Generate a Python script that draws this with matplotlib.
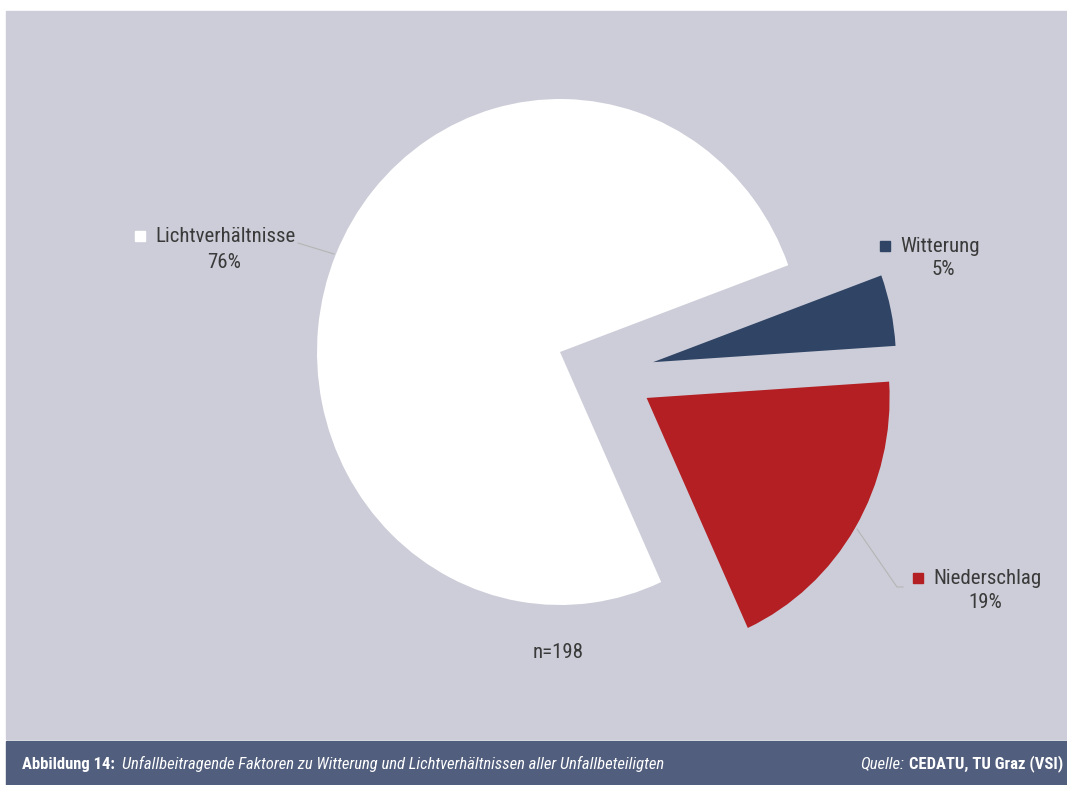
import matplotlib
matplotlib.use("Agg")
import matplotlib.pyplot as plt
from matplotlib.patches import Rectangle
import numpy as np

# Unfallbeteiligte mit Faktoren Witterung / Lichtverhältnisse (n=198)
categories = ["Witterung", "Lichtverhältnisse", "Niederschlag"]
counts = [9, 151, 38]
colors = ["#304566", "#ffffff", "#b31f22"]
explode = [0.385, 0.0, 0.40]
# direction (deg) in which the pulled-out slices are shifted
explode_dir = [-6, 0, -27]

W, H = 1067, 785
PANEL = "#cccdd8"
FOOTER = "#525e7d"
TEXT = "#3a3a3a"
FONT = ["Liberation Sans Narrow", "DejaVu Sans Condensed", "Roboto Condensed",
        "Roboto", "DejaVu Sans"]

plt.rcParams["font.family"] = FONT

fig = plt.figure(figsize=(W / 100, H / 100), dpi=100)
fig.patch.set_facecolor("white")


def fx(px):
    return px / W


def fy(py):
    return 1 - py / H


# background panel and caption bar
fig.patches.append(Rectangle((fx(6), fy(739)), 1 - fx(6), fy(11) - fy(739),
                             transform=fig.transFigure, color=PANEL, zorder=-2))
fig.patches.append(Rectangle((fx(6), 0), 1 - fx(6), fy(741),
                             transform=fig.transFigure, color=FOOTER, zorder=-2))

ax = fig.add_axes([0, 0, 1, 1])
ax.set_facecolor("none")
wedges, _ = ax.pie(counts, colors=colors, explode=explode, startangle=3.7,
                   counterclock=True, radius=1.0,
                   wedgeprops=dict(linewidth=0))

for w, e, d in zip(wedges, explode, explode_dir):
    a = np.deg2rad(d)
    w.set_center((e * np.cos(a), e * np.sin(a)))

# pie is a little taller than wide: 243 px horizontal, 253 px vertical radius
cx, cy, rx, ry = 560, 352, 243, 253
ax.set_aspect("auto")
ax.set_xlim(-cx / rx, (W - cx) / rx)
ax.set_ylim((cy - H) / ry, cy / ry)
ax.axis("off")

n = sum(counts)
pct = [f"{round(100 * c / n)}%" for c in counts]

# labels: (square x, name x-left, name y, pct centre x, pct y)
label_pos = {
    "Lichtverhältnisse": (140, 155, 236, 224, 263),
    "Witterung": (885, 900, 246, 943, 270),
    "Niederschlag": (918, 933, 578, 985, 603),
}
LS = 15
for i, name in enumerate(categories):
    sx, tx, ty, px_, py_ = label_pos[name]
    fig.patches.append(Rectangle((fx(sx - 5), fy(ty + 5)), 10 / W, 10 / H,
                                 transform=fig.transFigure, color=colors[i],
                                 zorder=3))
    fig.text(fx(tx), fy(ty), name, ha="left", va="center", fontsize=LS,
             color=TEXT)
    fig.text(fx(px_), fy(py_), pct[i], ha="center", va="center", fontsize=LS,
             color=TEXT)

# leader lines
lead = "#b5b5b5"
fig.add_artist(plt.Line2D([fx(298), fx(334)], [fy(243), fy(254)],
                          transform=fig.transFigure, color=lead, lw=0.8))
fig.add_artist(plt.Line2D([fx(857), fx(897), fx(903)],
                          [fy(529), fy(587), fy(587)],
                          transform=fig.transFigure, color=lead, lw=0.8))

fig.text(fx(558), fy(653), f"n={n}", ha="center", va="center", fontsize=LS,
         color=TEXT)

# caption
CS = 12
fig.text(fx(22), fy(764), "Abbildung 14:", ha="left", va="center",
         fontsize=CS, fontweight="bold", color="white")
fig.text(fx(122), fy(764),
         "Unfallbeitragende Faktoren zu Witterung und Lichtverhältnissen aller Unfallbeteiligten",
         ha="left", va="center", fontsize=CS, style="italic", color="white")
fig.text(fx(904), fy(764), "Quelle:", ha="right", va="center", fontsize=CS,
         style="italic", color="white")
fig.text(fx(1063), fy(764), "CEDATU, TU Graz (VSI)", ha="right", va="center",
         fontsize=CS, fontweight="bold", color="white")

fig.savefig("out.png", dpi=100)
